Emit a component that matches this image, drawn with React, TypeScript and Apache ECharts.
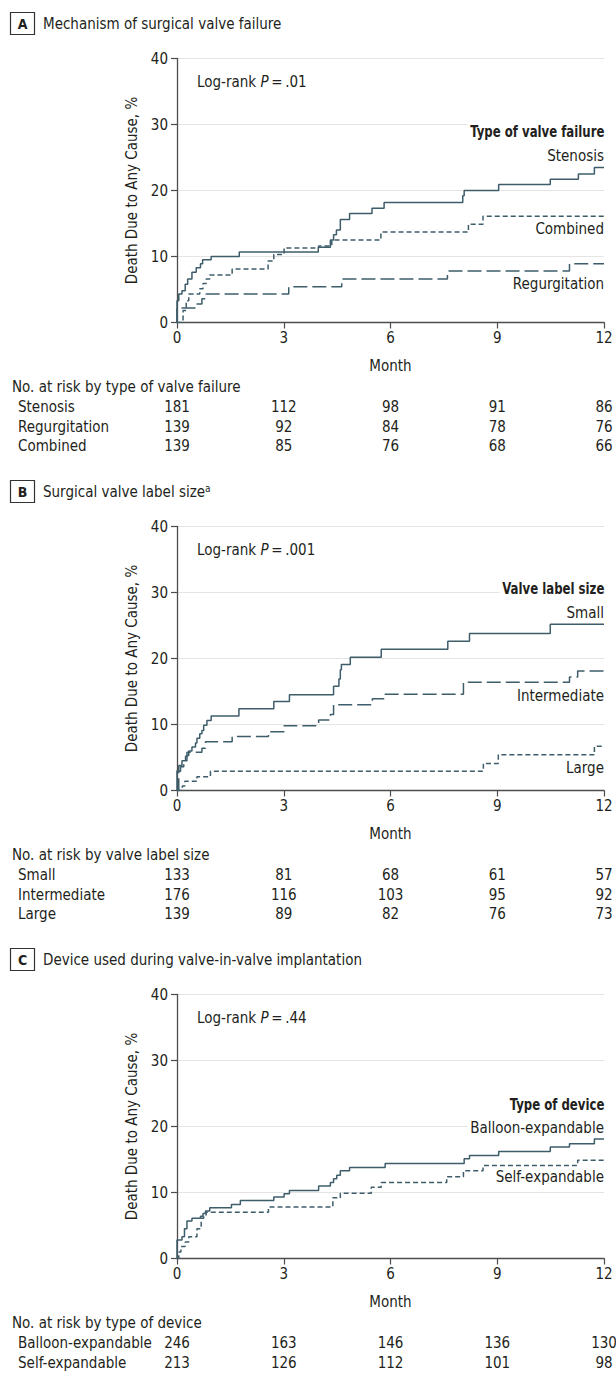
import React, { useEffect, useRef } from "react";
import * as echarts from "echarts";

const FONT = "'DejaVu Sans Condensed', 'Liberation Sans', sans-serif";
const TEXT = "#231f20";
const AXIS = "#4d4d4d";
const GRIDC = "#e4e4e4";
const LINEC = "#3e5d6b";

const monthTicks = [0, 3, 6, 9, 12];
const yName = "Death Due to Any Cause, %";

// ---------- Panel A: Mechanism of surgical valve failure ----------
const aStenosisT = [0, 0, 0.05, 0.14, 0.23, 0.3, 0.42, 0.54, 0.66, 0.72, 0.96, 1.75, 3.97, 4.31, 4.4, 4.48, 4.59, 4.85, 5.48, 5.82, 8.03, 8.07, 9.04, 10.49, 11.28, 11.73, 12];
const aStenosisV = [0, 3.3, 4.3, 4.8, 5.8, 6.6, 7.6, 8.3, 8.9, 9.5, 10.0, 10.7, 11.4, 12.5, 13.3, 14.0, 15.6, 16.5, 17.3, 18.2, 19.2, 20.0, 20.9, 21.7, 22.5, 23.5, 23.5];
const aRegurgT = [0, 0, 0.54, 0.7, 0.82, 3.14, 4.63, 7.6, 11.03, 12];
const aRegurgV = [0, 2.2, 2.8, 3.6, 4.3, 5.4, 6.6, 7.8, 8.9, 8.9];
const aCombinedT = [0, 0.17, 0.26, 0.33, 0.64, 0.73, 0.82, 0.92, 1.55, 2.56, 2.72, 3.01, 3.98, 4.35, 5.73, 8.19, 8.6, 12];
const aCombinedV = [0, 1.8, 3.3, 4.3, 5.1, 5.9, 6.6, 7.2, 8.1, 9.3, 10.3, 11.3, 11.6, 12.5, 13.7, 14.9, 16.1, 16.1];
const aRiskStenosis = [181, 112, 98, 91, 86];
const aRiskRegurg = [139, 92, 84, 78, 76];
const aRiskCombined = [139, 85, 76, 68, 66];

// ---------- Panel B: Surgical valve label size ----------
const bSmallT = [0, 0, 0.05, 0.14, 0.28, 0.33, 0.42, 0.52, 0.56, 0.64, 0.7, 0.75, 0.84, 0.96, 1.74, 2.72, 3.16, 4.4, 4.55, 4.59, 4.62, 4.87, 5.74, 7.61, 8.22, 10.49, 12];
const bSmallV = [0, 3.0, 3.8, 4.5, 5.3, 6.0, 6.6, 7.2, 7.9, 8.6, 9.1, 9.9, 10.6, 11.3, 12.4, 13.5, 14.5, 15.8, 16.9, 18.3, 19.1, 20.2, 21.4, 22.6, 23.8, 25.2, 25.2];
const bInterT = [0, 0.05, 0.1, 0.19, 0.24, 0.28, 0.7, 0.8, 1.55, 2.57, 3.01, 3.98, 4.31, 4.4, 5.49, 5.83, 8.05, 11.03, 11.26, 12];
const bInterV = [0, 2.9, 3.6, 4.4, 5.2, 5.8, 6.4, 7.4, 8.2, 8.9, 9.8, 10.7, 11.5, 13.0, 13.9, 14.6, 16.4, 17.2, 18.1, 18.1];
const bLargeT = [0, 0.15, 0.22, 0.56, 0.94, 8.61, 9.03, 11.73, 12];
const bLargeV = [0, 0.7, 1.4, 2.1, 2.9, 4.1, 5.4, 6.7, 6.7];
const bRiskSmall = [133, 81, 68, 61, 57];
const bRiskInter = [176, 116, 103, 95, 92];
const bRiskLarge = [139, 89, 82, 76, 73];

// ---------- Panel C: Device used during valve-in-valve implantation ----------
const cBalloonT = [0, 0, 0.14, 0.21, 0.28, 0.42, 0.66, 0.73, 0.8, 0.92, 1.53, 1.78, 2.72, 3.01, 3.16, 3.98, 4.31, 4.4, 4.49, 4.59, 4.85, 5.85, 8.07, 8.22, 9.04, 10.49, 11.03, 11.73, 12];
const cBalloonV = [0, 2.8, 3.3, 4.5, 5.7, 6.1, 6.4, 6.8, 7.2, 7.7, 8.2, 8.8, 9.3, 9.8, 10.3, 11.0, 11.5, 12.1, 12.6, 13.3, 13.8, 14.4, 15.1, 15.6, 16.2, 16.9, 17.4, 18.1, 18.1];
const cSelfT = [0, 0.05, 0.11, 0.23, 0.33, 0.56, 0.68, 0.75, 0.82, 2.57, 4.38, 4.59, 5.46, 5.74, 7.58, 8.05, 8.6, 11.26, 12];
const cSelfV = [0, 1.0, 1.8, 2.5, 3.3, 4.5, 6.1, 6.6, 7.0, 7.8, 9.2, 9.9, 10.8, 11.5, 12.4, 13.3, 14.1, 14.9, 14.9];
const cRiskBalloon = [246, 163, 146, 136, 130];
const cRiskSelf = [213, 126, 112, 101, 98];

const SOLID = "solid";
const SHORT = [5, 3];
const LONG = [14, 5];

type Curve = { name: string; t: number[]; v: number[]; dash: any; labelY: number };
type Panel = {
  letter: string;
  title: string;
  sup?: string;
  pText: string;
  legendTitle: string;
  legendY: number;
  curves: Curve[];
  riskTitle: string;
  risk: { name: string; values: number[] }[];
};

const panels: Panel[] = [
  {
    letter: "A",
    title: "Mechanism of surgical valve failure",
    pText: ".01",
    legendTitle: "Type of valve failure",
    legendY: 131.7,
    curves: [
      { name: "Stenosis", t: aStenosisT, v: aStenosisV, dash: SOLID, labelY: 155.7 },
      { name: "Combined", t: aCombinedT, v: aCombinedV, dash: SHORT, labelY: 229 },
      { name: "Regurgitation", t: aRegurgT, v: aRegurgV, dash: LONG, labelY: 284 },
    ],
    riskTitle: "No. at risk by type of valve failure",
    risk: [
      { name: "Stenosis", values: aRiskStenosis },
      { name: "Regurgitation", values: aRiskRegurg },
      { name: "Combined", values: aRiskCombined },
    ],
  },
  {
    letter: "B",
    title: "Surgical valve label size",
    sup: "a",
    pText: ".001",
    legendTitle: "Valve label size",
    legendY: 121,
    curves: [
      { name: "Small", t: bSmallT, v: bSmallV, dash: SOLID, labelY: 144.7 },
      { name: "Intermediate", t: bInterT, v: bInterV, dash: LONG, labelY: 228 },
      { name: "Large", t: bLargeT, v: bLargeV, dash: SHORT, labelY: 299.7 },
    ],
    riskTitle: "No. at risk by valve label size",
    risk: [
      { name: "Small", values: bRiskSmall },
      { name: "Intermediate", values: bRiskInter },
      { name: "Large", values: bRiskLarge },
    ],
  },
  {
    letter: "C",
    title: "Device used during valve-in-valve implantation",
    pText: ".44",
    legendTitle: "Type of device",
    legendY: 168.3,
    curves: [
      { name: "Balloon-expandable", t: cBalloonT, v: cBalloonV, dash: SOLID, labelY: 191.7 },
      { name: "Self-expandable", t: cSelfT, v: cSelfV, dash: SHORT, labelY: 241.3 },
    ],
    riskTitle: "No. at risk by type of device",
    risk: [
      { name: "Balloon-expandable", values: cRiskBalloon },
      { name: "Self-expandable", values: cRiskSelf },
    ],
  },
];

const PANEL_STEP = 468;
const GRID_LEFT = 177;
const GRID_W = 427;
const GRID_TOP = 58.5;
const GRID_H = 264;
const FS = 15;

export default function App() {
  const ref = useRef<HTMLDivElement>(null);
  useEffect(() => {
    if (!ref.current) return;
    const chart = echarts.init(ref.current, undefined, { renderer: "svg" });
    const grids: any[] = [];
    const xAxes: any[] = [];
    const yAxes: any[] = [];
    const series: any[] = [];
    const graphics: any[] = [];
    const txt = (x: number, y: number, text: string, extra: any = {}, rich?: any) => ({
      type: "text",
      x,
      y,
      z: 100,
      scaleX: extra.scaleX || 1,
      silent: true,
      style: {
        text,
        fill: TEXT,
        fontFamily: FONT,
        fontSize: extra.fontSize || FS,
        fontWeight: extra.fontWeight || "normal",
        align: extra.align || "left",
        verticalAlign: "middle",
        backgroundColor: extra.bg,
        padding: extra.bg ? [1, 3, 1, 3] : undefined,
        rich,
      },
    });

    panels.forEach((p, i) => {
      const o = i * PANEL_STEP;
      const xOf = (t: number) => GRID_LEFT + (t / 12) * GRID_W;
      grids.push({ left: GRID_LEFT, top: GRID_TOP + o, width: GRID_W, height: GRID_H, containLabel: false });
      xAxes.push({
        gridIndex: i,
        type: "value",
        min: 0,
        max: 12,
        interval: 3,
        axisLine: { show: true, lineStyle: { color: AXIS, width: 1.3 } },
        axisTick: { show: true, length: 6, lineStyle: { color: AXIS, width: 1.2 } },
        axisLabel: { fontSize: FS, color: TEXT, margin: 8, fontFamily: FONT },
        splitLine: { show: false },
        name: "Month",
        nameLocation: "middle",
        nameGap: 36,
        nameTextStyle: { fontSize: FS, color: TEXT, fontFamily: FONT },
      });
      yAxes.push({
        gridIndex: i,
        type: "value",
        min: 0,
        max: 40,
        interval: 10,
        axisLine: { show: true, lineStyle: { color: AXIS, width: 1.3 } },
        axisTick: { show: true, length: 6, lineStyle: { color: AXIS, width: 1.2 } },
        axisLabel: { fontSize: FS, color: TEXT, margin: 9, fontFamily: FONT },
        splitLine: { show: true, lineStyle: { color: GRIDC, width: 1.2 } },
        name: yName,
        nameLocation: "middle",
        nameGap: 37,
        nameTextStyle: { fontSize: FS, color: TEXT, fontFamily: FONT },
      });
      p.curves.forEach((c) => {
        series.push({
          type: "line",
          name: c.name,
          xAxisIndex: i,
          yAxisIndex: i,
          step: "end",
          symbol: "none",
          data: c.t.map((t, k) => [t, c.v[k]]),
          lineStyle: { color: LINEC, width: 1.5, type: c.dash },
          z: 3,
        });
        graphics.push(txt(607, c.labelY + o, c.name, { align: "right", bg: "#fff" }));
      });
      // header box
      graphics.push({
        type: "rect",
        z: 100,
        shape: { x: 10.5, y: 12.5 + o, width: 24, height: 22 },
        style: { fill: "#fff", stroke: "#333", lineWidth: 1.2 },
        silent: true,
      });
      graphics.push(txt(22.5, 23.8 + o, p.letter, { align: "center", fontWeight: "bold", fontSize: 14 }));
      if (p.sup) {
        graphics.push(
          txt(43, 23.5 + o, `${p.title}{s|${p.sup}}`, { fontSize: FS }, {
            s: { fontSize: 10, fontFamily: FONT, fill: TEXT, padding: [0, 0, 6, 0], verticalAlign: "bottom" },
          })
        );
      } else {
        graphics.push(txt(43, 23.5 + o, p.title));
      }
      graphics.push(
        txt(197, 81.5 + o, `Log-rank {i|P}\u2009=\u2009${p.pText}`, {}, {
          i: { fontStyle: "italic", fontSize: FS, fontFamily: FONT, fill: TEXT },
        })
      );
      graphics.push(
        txt(607, p.legendY + o, p.legendTitle, { align: "right", fontWeight: "bold", bg: "#fff", scaleX: 0.87 })
      );
      // risk table
      graphics.push(txt(12, 387 + o, p.riskTitle));
      p.risk.forEach((r, k) => {
        const y = 407 + o + k * 19.6;
        graphics.push(txt(18, y, r.name));
        r.values.forEach((v, j) => {
          graphics.push(txt(xOf(monthTicks[j]), y, String(v), { align: "center" }));
        });
      });
    });

    chart.setOption({
      animation: false,
      backgroundColor: "#fff",
      textStyle: { fontFamily: FONT },
      grid: grids,
      xAxis: xAxes,
      yAxis: yAxes,
      series,
      graphic: { elements: graphics },
    });
    return () => chart.dispose();
  }, []);
  return (
    <div
      ref={ref}
      style={{ position: "absolute", left: 0, top: 0, width: 616, height: 1389, background: "#fff" }}
    />
  );
}
